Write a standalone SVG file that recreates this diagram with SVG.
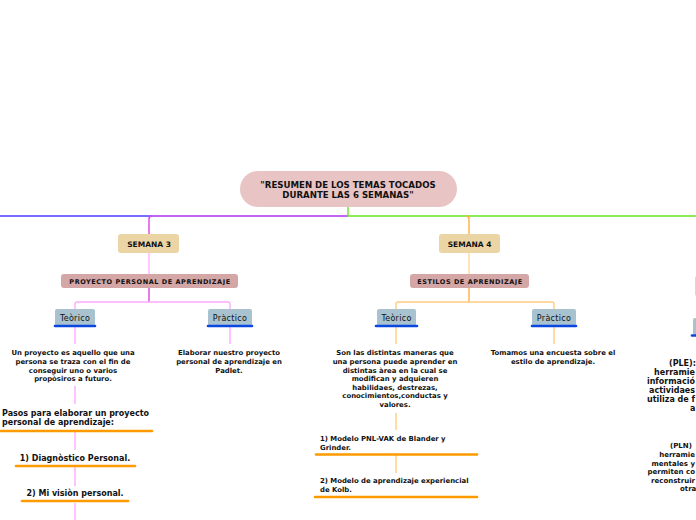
<svg xmlns="http://www.w3.org/2000/svg" width="696" height="520" viewBox="0 0 696 520">
<style>
text{font-family:"DejaVu Sans","Verdana",sans-serif;fill:#111;}
.t{font-weight:bold;font-size:8.6px;text-anchor:middle;}
.sem{font-weight:bold;font-size:7.5px;text-anchor:middle;}
.sub{font-weight:bold;font-size:6.5px;letter-spacing:0.55px;text-anchor:middle;}
.tp{font-size:8px;letter-spacing:0.3px;text-anchor:middle;}
.b{font-weight:bold;font-size:6.9px;text-anchor:middle;}
.bl{font-weight:bold;font-size:6.9px;}
.s{font-weight:bold;font-size:8px;}
.sc{font-weight:bold;font-size:8px;text-anchor:middle;}
.r8{font-weight:bold;font-size:8px;}
.r7{font-weight:bold;font-size:7px;}
.e{text-anchor:end;}
.c{fill:none;stroke-width:1.4;}
.ul{stroke:#0a47e0;stroke-width:2.6;stroke-linecap:round;}
.ol{stroke:#ff9a00;stroke-width:2.6;stroke-linecap:round;}
.semb{fill:#ecd5a5;}
.subb{fill:#d4a6a6;}
.tpb{fill:#a8c3cf;}
</style>
<rect width="696" height="520" fill="#ffffff"/>
<g id="connectors">
<path class="c" d="M0,216 H150" stroke="#4a3cff"/>
<path class="c" d="M150,216 H348" stroke="#b030f0"/>
<path class="c" d="M152,216 Q149,216 149,219 V234" stroke="#e040e8"/>
<path class="c" d="M348,207 V216 H696" stroke="#66e620"/>
<path class="c" d="M466,216 Q469,216 469,219 V234" stroke="#ffb040"/>
<path class="c" d="M149,253 V274" stroke="#ffb0ff"/>
<path class="c" d="M149,288 V302" stroke="#dd44dd"/>
<path class="c" d="M75,309 V304 Q75,302 77,302 H228 Q230,302 230,304 V309" stroke="#ffaaff"/>
<path class="c" d="M75,327 V344 M75,386 V404 M75,432 V450 M75,467 V486 M75,503 V520 M230,327 V344" stroke="#ffaaff"/>
<path class="c" d="M469,253 V274" stroke="#ffd89a"/>
<path class="c" d="M469,288 V302" stroke="#ffb040"/>
<path class="c" d="M396,309 V304 Q396,302 398,302 H552 Q554,302 554,304 V309" stroke="#ffcc80"/>
<path class="c" d="M396,327 V344 M396,413 V430 M396,455 V473 M554,327 V344" stroke="#ffcc80"/>
</g>
<g id="root">
<rect x="240" y="171" width="217" height="36" rx="18" fill="#e8c4c4"/>
<text class="t" x="348" y="188">"RESUMEN DE LOS TEMAS TOCADOS</text>
<text class="t" x="348" y="198">DURANTE LAS 6 SEMANAS"</text>
</g>
<g id="semana3">
<rect class="semb" x="118" y="234" width="61" height="19" rx="3"/>
<text class="sem" x="149" y="246.5">SEMANA 3</text>
</g>
<g id="proyecto">
<rect class="subb" x="61" y="274" width="177" height="14" rx="3"/>
<text class="sub" x="150" y="283.5">PROYECTO PERSONAL DE APRENDIZAJE</text>
</g>
<g id="teorico3">
<rect class="tpb" x="55" y="309" width="40" height="17" rx="2"/>
<line class="ul" x1="55" y1="326" x2="95" y2="326"/>
<text class="tp" x="75" y="320.5">Teòrico</text>
</g>
<g id="practico3">
<rect class="tpb" x="208" y="309" width="44" height="17" rx="2"/>
<line class="ul" x1="208" y1="326" x2="252" y2="326"/>
<text class="tp" x="230" y="320.5">Pràctico</text>
</g>
<g id="def3">
<text class="b" x="73" y="355">Un proyecto es aquello que una</text>
<text class="b" x="73" y="364">persona se traza con el fin de</text>
<text class="b" x="73" y="372.5">conseguir uno o varios</text>
<text class="b" x="73" y="381">propòsiros a futuro.</text>
</g>
<g id="pasos">
<text class="s" x="2" y="415.5">Pasos para elaborar un proyecto</text>
<text class="s" x="2" y="424.5">personal de aprendizaje:</text>
<line class="ol" x1="1" y1="431" x2="152" y2="431"/>
</g>
<g id="paso1">
<text class="sc" x="75" y="460.5">1) Diagnòstico Personal.</text>
<line class="ol" x1="16" y1="466" x2="135" y2="466"/>
</g>
<g id="paso2">
<text class="sc" x="75" y="495.5">2) Mi visiòn personal.</text>
<line class="ol" x1="22" y1="501" x2="128" y2="501"/>
</g>
<g id="prac3text">
<text class="b" x="229" y="355">Elaborar nuestro proyecto</text>
<text class="b" x="229" y="364">personal de aprendizaje en</text>
<text class="b" x="229" y="372.5">Padlet.</text>
</g>
<g id="semana4">
<rect class="semb" x="439" y="234" width="61" height="19" rx="3"/>
<text class="sem" x="469.5" y="246.5">SEMANA 4</text>
</g>
<g id="estilos">
<rect class="subb" x="410" y="274" width="119" height="14" rx="3"/>
<text class="sub" x="470" y="283.5">ESTILOS DE APRENDIZAJE</text>
</g>
<g id="teorico4">
<rect class="tpb" x="377" y="309" width="39" height="17" rx="2"/>
<line class="ul" x1="376" y1="326" x2="417" y2="326"/>
<text class="tp" x="396.5" y="320.5">Teòrico</text>
</g>
<g id="practico4">
<rect class="tpb" x="532" y="309" width="44" height="17" rx="2"/>
<line class="ul" x1="532" y1="326" x2="576" y2="326"/>
<text class="tp" x="554" y="320.5">Pràctico</text>
</g>
<g id="def4">
<text class="b" x="395" y="355">Son las distintas maneras que</text>
<text class="b" x="395" y="364">una persona puede aprender en</text>
<text class="b" x="395" y="372.5">distintas àrea en la cual se</text>
<text class="b" x="395" y="381">modifican y adquieren</text>
<text class="b" x="395" y="389.5">habilidaes, destrezas,</text>
<text class="b" x="395" y="398">conocimientos,conductas y</text>
<text class="b" x="395" y="406.5">valores.</text>
</g>
<g id="modelo1">
<text class="bl" x="320" y="441">1) Modelo PNL-VAK de Blander y</text>
<text class="bl" x="320" y="450">Grinder.</text>
<line class="ol" x1="316" y1="454.5" x2="477" y2="454.5"/>
</g>
<g id="modelo2">
<text class="bl" x="320" y="483">2) Modelo de aprendizaje experiencial</text>
<text class="bl" x="320" y="492">de Kolb.</text>
<line class="ol" x1="315" y1="497" x2="477" y2="497"/>
</g>
<g id="prac4text">
<text class="b" x="553" y="355">Tomamos una encuesta sobre el</text>
<text class="b" x="553" y="364">estilo de aprendizaje.</text>
</g>
<g id="rightnode">
<rect x="695" y="276" width="10" height="20" rx="2" fill="#e6d2d2"/>
</g>
<g id="rightteorico">
<rect class="tpb" x="693" y="318" width="10" height="17" rx="2"/>
<line class="ul" x1="692" y1="335.5" x2="700" y2="335.5"/>
</g>
<g id="ple">
<text class="r8" x="669" y="366">(PLE):</text>
<text class="r8 e" x="695" y="375">herramie</text>
<text class="r8 e" x="695" y="384">informació</text>
<text class="r8 e" x="695" y="393">actividaes</text>
<text class="r8 e" x="695" y="402">utiliza de f</text>
<text class="r8" x="690" y="411">a</text>
</g>
<g id="pln">
<text class="r7" x="670" y="448">(PLN)</text>
<text class="r7 e" x="695" y="457">herramie</text>
<text class="r7 e" x="695" y="465.5">mentales y</text>
<text class="r7 e" x="695" y="474">permiten co</text>
<text class="r7 e" x="695" y="482.5">reconstruir</text>
<text class="r7" x="680" y="491">otra</text>
</g>
</svg>
